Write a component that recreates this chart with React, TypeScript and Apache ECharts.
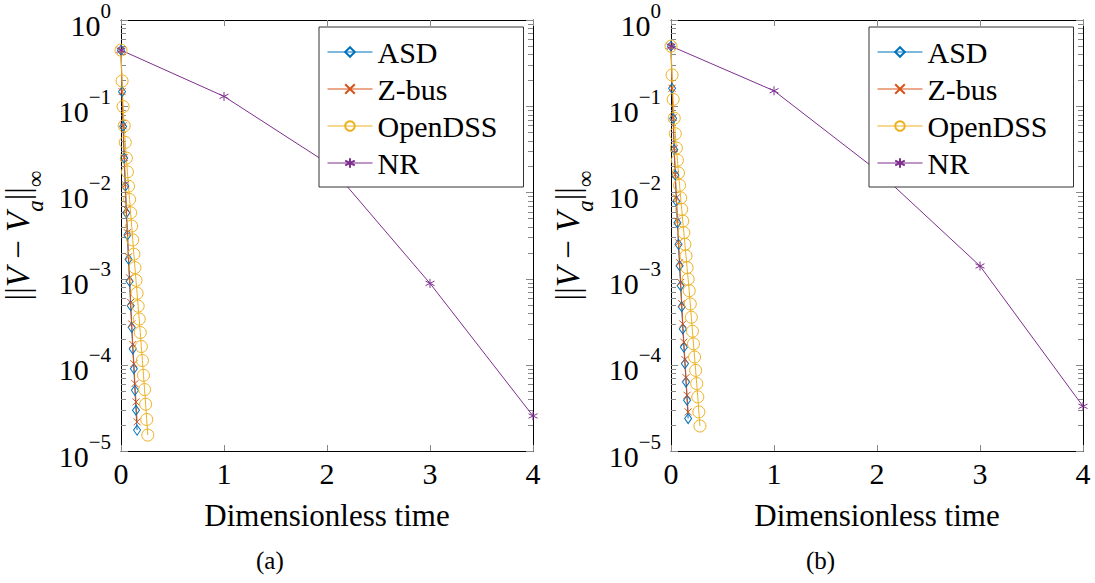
import React, { useEffect, useRef } from "react";
import * as echarts from "echarts";

// Shared iteration times (dimensionless)
const T_STEPS = [0, 0.0104, 0.0208, 0.0312, 0.0416, 0.052, 0.0624, 0.0728, 0.0832, 0.0936, 0.104, 0.1144, 0.1248, 0.1352, 0.1456, 0.156, 0.1664, 0.1768, 0.1872, 0.1976, 0.208, 0.2184, 0.2288, 0.2392, 0.2496, 0.26, 0.2704, 0.2808];
const NR_T = [0, 1, 2, 3, 4];

// Panel (a)
const A_ASD = [0.447, 0.1475, 0.0581, 0.025, 0.0118, 0.0058, 0.00321, 0.00168, 0.000931, 0.000485, 0.000272, 0.000153, 0.00009, 0.0000506, 0.0000297, 0.0000175];
const A_ZBUS = [0.447, 0.1475, 0.0593, 0.0255, 0.0123, 0.00635, 0.00341, 0.00179, 0.00102, 0.00053, 0.000298, 0.000172, 0.000103, 0.0000605, 0.0000371, 0.0000218];
const A_OPENDSS = [0.447, 0.196, 0.0989, 0.0593, 0.038, 0.025, 0.0173, 0.0118, 0.00828, 0.0058, 0.00407, 0.00281, 0.00192, 0.00134, 0.000955, 0.000676, 0.000479, 0.000339, 0.000237, 0.000163, 0.000112, 0.0000755, 0.0000516, 0.0000349, 0.0000232, 0.0000153];
const A_NR = [0.447, 0.13, 0.022, 0.00088, 0.0000255];

// Panel (b)
const B_ASD = [0.497, 0.161, 0.0719, 0.0313, 0.0158, 0.00791, 0.00444, 0.0025, 0.00141, 0.000826, 0.000472, 0.000261, 0.00016, 0.000103, 0.0000631, 0.0000388, 0.0000238];
const B_ZBUS = [0.497, 0.161, 0.0738, 0.0324, 0.0161, 0.00864, 0.00465, 0.00261, 0.00153, 0.000902, 0.000512, 0.000298, 0.000183, 0.000115, 0.000071, 0.0000443, 0.0000284];
const B_OPENDSS = [0.497, 0.23, 0.12, 0.0725, 0.0479, 0.0327, 0.0236, 0.0168, 0.0121, 0.00864, 0.00635, 0.00465, 0.00341, 0.0025, 0.00183, 0.00134, 0.000986, 0.000723, 0.000508, 0.000356, 0.000245, 0.000175, 0.000123, 0.0000861, 0.0000605, 0.0000424, 0.0000284, 0.0000195];
const B_NR = [0.497, 0.151, 0.018, 0.0014, 0.000033];

const SERIES_NAMES = ["ASD", "Z-bus", "OpenDSS", "NR"];
const DECADES = [-5, -4, -3, -2, -1, 0];
const MANTISSAS = [2, 3, 4, 5, 6, 7, 8, 9];
const CAPTIONS = ["(a)", "(b)"];

const FONT = "Liberation Serif";
const COLORS = { ASD: "#0072BD", "Z-bus": "#D95319", OpenDSS: "#EDB120", NR: "#7E2F8E" };
const X_SYM = "path://M0,0L10,10M0,10L10,0";
const AST_SYM = "path://M5,0L5,10M0.67,2.5L9.33,7.5M0.67,7.5L9.33,2.5";

const GRID_LEFTS = [121, 671];
const CAPTION_LEFTS = [256, 806];
const GRID_W = 412;
const GRID_TOP = 18;
const GRID_H = 433;

function pairs(vals: number[], times: number[]) {
  return vals.map((v, i) => [times[i], v]);
}

function tickData() {
  const d: number[][] = [];
  DECADES.forEach((e) => {
    d.push([Math.pow(10, e), 1]);
    if (e < 0) MANTISSAS.forEach((m) => d.push([m * Math.pow(10, e), 0]));
  });
  return d;
}

export default function App() {
  const ref = useRef<HTMLDivElement>(null);
  useEffect(() => {
    if (!ref.current) return;
    const chart = echarts.init(ref.current, undefined, { renderer: "svg" });
    const panels = [
      { asd: A_ASD, zbus: A_ZBUS, odss: A_OPENDSS, nr: A_NR },
      { asd: B_ASD, zbus: B_ZBUS, odss: B_OPENDSS, nr: B_NR },
    ];
    const grid: any[] = [];
    const xAxis: any[] = [];
    const yAxis: any[] = [];
    const series: any[] = [];
    const legend: any[] = [];
    const ticks = tickData();

    panels.forEach((p, gi) => {
      grid.push({ left: GRID_LEFTS[gi], top: GRID_TOP, width: GRID_W, height: GRID_H, containLabel: false });
      const axisLine = { show: true, onZero: false, lineStyle: { color: "#000", width: 1 } };
      xAxis.push({
        type: "value", gridIndex: gi, position: "bottom", min: 0, max: 4, interval: 1,
        axisLine, splitLine: { show: false },
        axisTick: { show: true, inside: true, length: 6, lineStyle: { color: "#888" } },
        axisLabel: {
          margin: 7, fontFamily: FONT, fontSize: 30, color: "#000",
          formatter: (v: number) => String(v),
        },
        name: "Dimensionless time", nameLocation: "middle", nameGap: 49,
        nameTextStyle: { fontFamily: FONT, fontSize: 31, color: "#000" },
      });
      xAxis.push({
        type: "value", gridIndex: gi, position: "top", min: 0, max: 4, interval: 1,
        axisLine, splitLine: { show: false },
        axisTick: { show: true, inside: true, length: 6, lineStyle: { color: "#888" } },
        axisLabel: { show: false },
      });
      yAxis.push({
        type: "log", logBase: 10, gridIndex: gi, position: "left", min: 0.00001, max: 1,
        axisLine, splitLine: { show: false }, axisTick: { show: false }, minorTick: { show: false },
        axisLabel: {
          margin: 10,
          fontFamily: FONT,
          formatter: (v: number) => {
            const e = Math.round(Math.log10(v));
            return `{b|10}{s|${e < 0 ? "\u2212" + Math.abs(e) : e}}`;
          },
          rich: {
            b: { fontFamily: FONT, fontSize: 30, color: "#000", lineHeight: 40, verticalAlign: "bottom" },
            s: { fontFamily: FONT, fontSize: 21, color: "#000", lineHeight: 22, verticalAlign: "top" },
          },
        },
        name: "{n|||}{i|V}{n| \u2212 }{i|V}{sub|a}{n|||}{inf|\u221E}",
        nameLocation: "middle", nameGap: 74, nameRotate: 90,
        nameTextStyle: {
          fontFamily: FONT,
          rich: {
            n: { fontFamily: FONT, fontSize: 33, color: "#000", lineHeight: 46, verticalAlign: "top" },
            i: { fontFamily: FONT, fontSize: 33, color: "#000", fontStyle: "italic", lineHeight: 46, verticalAlign: "top" },
            sub: { fontFamily: FONT, fontSize: 23, color: "#000", fontStyle: "italic", lineHeight: 25, verticalAlign: "bottom" },
            inf: { fontFamily: FONT, fontSize: 23, color: "#000", lineHeight: 25, verticalAlign: "bottom" },
          },
        },
      });
      yAxis.push({
        type: "log", logBase: 10, gridIndex: gi, position: "right", min: 0.00001, max: 1,
        axisLine, splitLine: { show: false }, axisTick: { show: false }, axisLabel: { show: false },
      });

      const xi = gi * 2;
      const yi = gi * 2;
      series.push({
        type: "custom", xAxisIndex: xi, yAxisIndex: yi, silent: true, z: 1,
        data: ticks, encode: { y: 0, x: 1 },
        renderItem: (params: any, api: any) => {
          const v = api.value(0);
          const major = api.value(1) === 1;
          const l = api.coord([0, v]);
          const r = api.coord([4, v]);
          const len = major ? 7 : 5;
          const y = Math.round(l[1]) + 0.5;
          const st = { stroke: "#888", lineWidth: 1 };
          return {
            type: "group",
            children: [
              { type: "line", shape: { x1: l[0], y1: y, x2: l[0] + len, y2: y }, style: st },
              { type: "line", shape: { x1: r[0], y1: y, x2: r[0] - len, y2: y }, style: st },
            ],
          };
        },
      });
      const common = { type: "line", xAxisIndex: xi, yAxisIndex: yi, showAllSymbol: true, z: 3 };
      series.push({
        ...common, name: "ASD", data: pairs(p.asd, T_STEPS), symbol: "diamond", symbolSize: [7, 10],
        lineStyle: { color: COLORS.ASD, width: 1 },
        itemStyle: { color: "rgba(0,0,0,0)", borderColor: COLORS.ASD, borderWidth: 1 },
      });
      series.push({
        ...common, name: "Z-bus", data: pairs(p.zbus, T_STEPS), symbol: X_SYM, symbolSize: 7,
        lineStyle: { color: COLORS["Z-bus"], width: 1 },
        itemStyle: { color: "rgba(0,0,0,0)", borderColor: COLORS["Z-bus"], borderWidth: 1 },
      });
      series.push({
        ...common, name: "OpenDSS", data: pairs(p.odss, T_STEPS), symbol: "circle", symbolSize: 12,
        lineStyle: { color: COLORS.OpenDSS, width: 1 },
        itemStyle: { color: "rgba(0,0,0,0)", borderColor: COLORS.OpenDSS, borderWidth: 1 },
      });
      series.push({
        ...common, name: "NR", data: pairs(p.nr, NR_T), symbol: AST_SYM, symbolSize: 9,
        lineStyle: { color: COLORS.NR, width: 1 },
        itemStyle: { color: "rgba(0,0,0,0)", borderColor: COLORS.NR, borderWidth: 1 },
      });

      legend.push({
        data: SERIES_NAMES, orient: "vertical", left: GRID_LEFTS[gi] + 198, top: 27,
        backgroundColor: "#fff", borderColor: "#333", borderWidth: 1,
        padding: [10, 26, 9, 8], itemWidth: 45, itemHeight: 12, itemGap: 7,
        selectedMode: false,
        lineStyle: { width: 1 },
        textStyle: { fontFamily: FONT, fontSize: 30, color: "#000", lineHeight: 30 },
      });
    });

    chart.setOption({
      animation: false,
      backgroundColor: "#fff",
      textStyle: { fontFamily: FONT },
      grid, xAxis, yAxis, series, legend,
      graphic: CAPTIONS.map((c, i) => ({
        type: "text", left: CAPTION_LEFTS[i], top: 548,
        style: { text: c, fontFamily: FONT, fontSize: 25, fill: "#000" },
      })),
    });
    return () => chart.dispose();
  }, []);
  return <div ref={ref} style={{ position: "absolute", left: 0, top: 0, width: 1095, height: 583 }} />;
}
